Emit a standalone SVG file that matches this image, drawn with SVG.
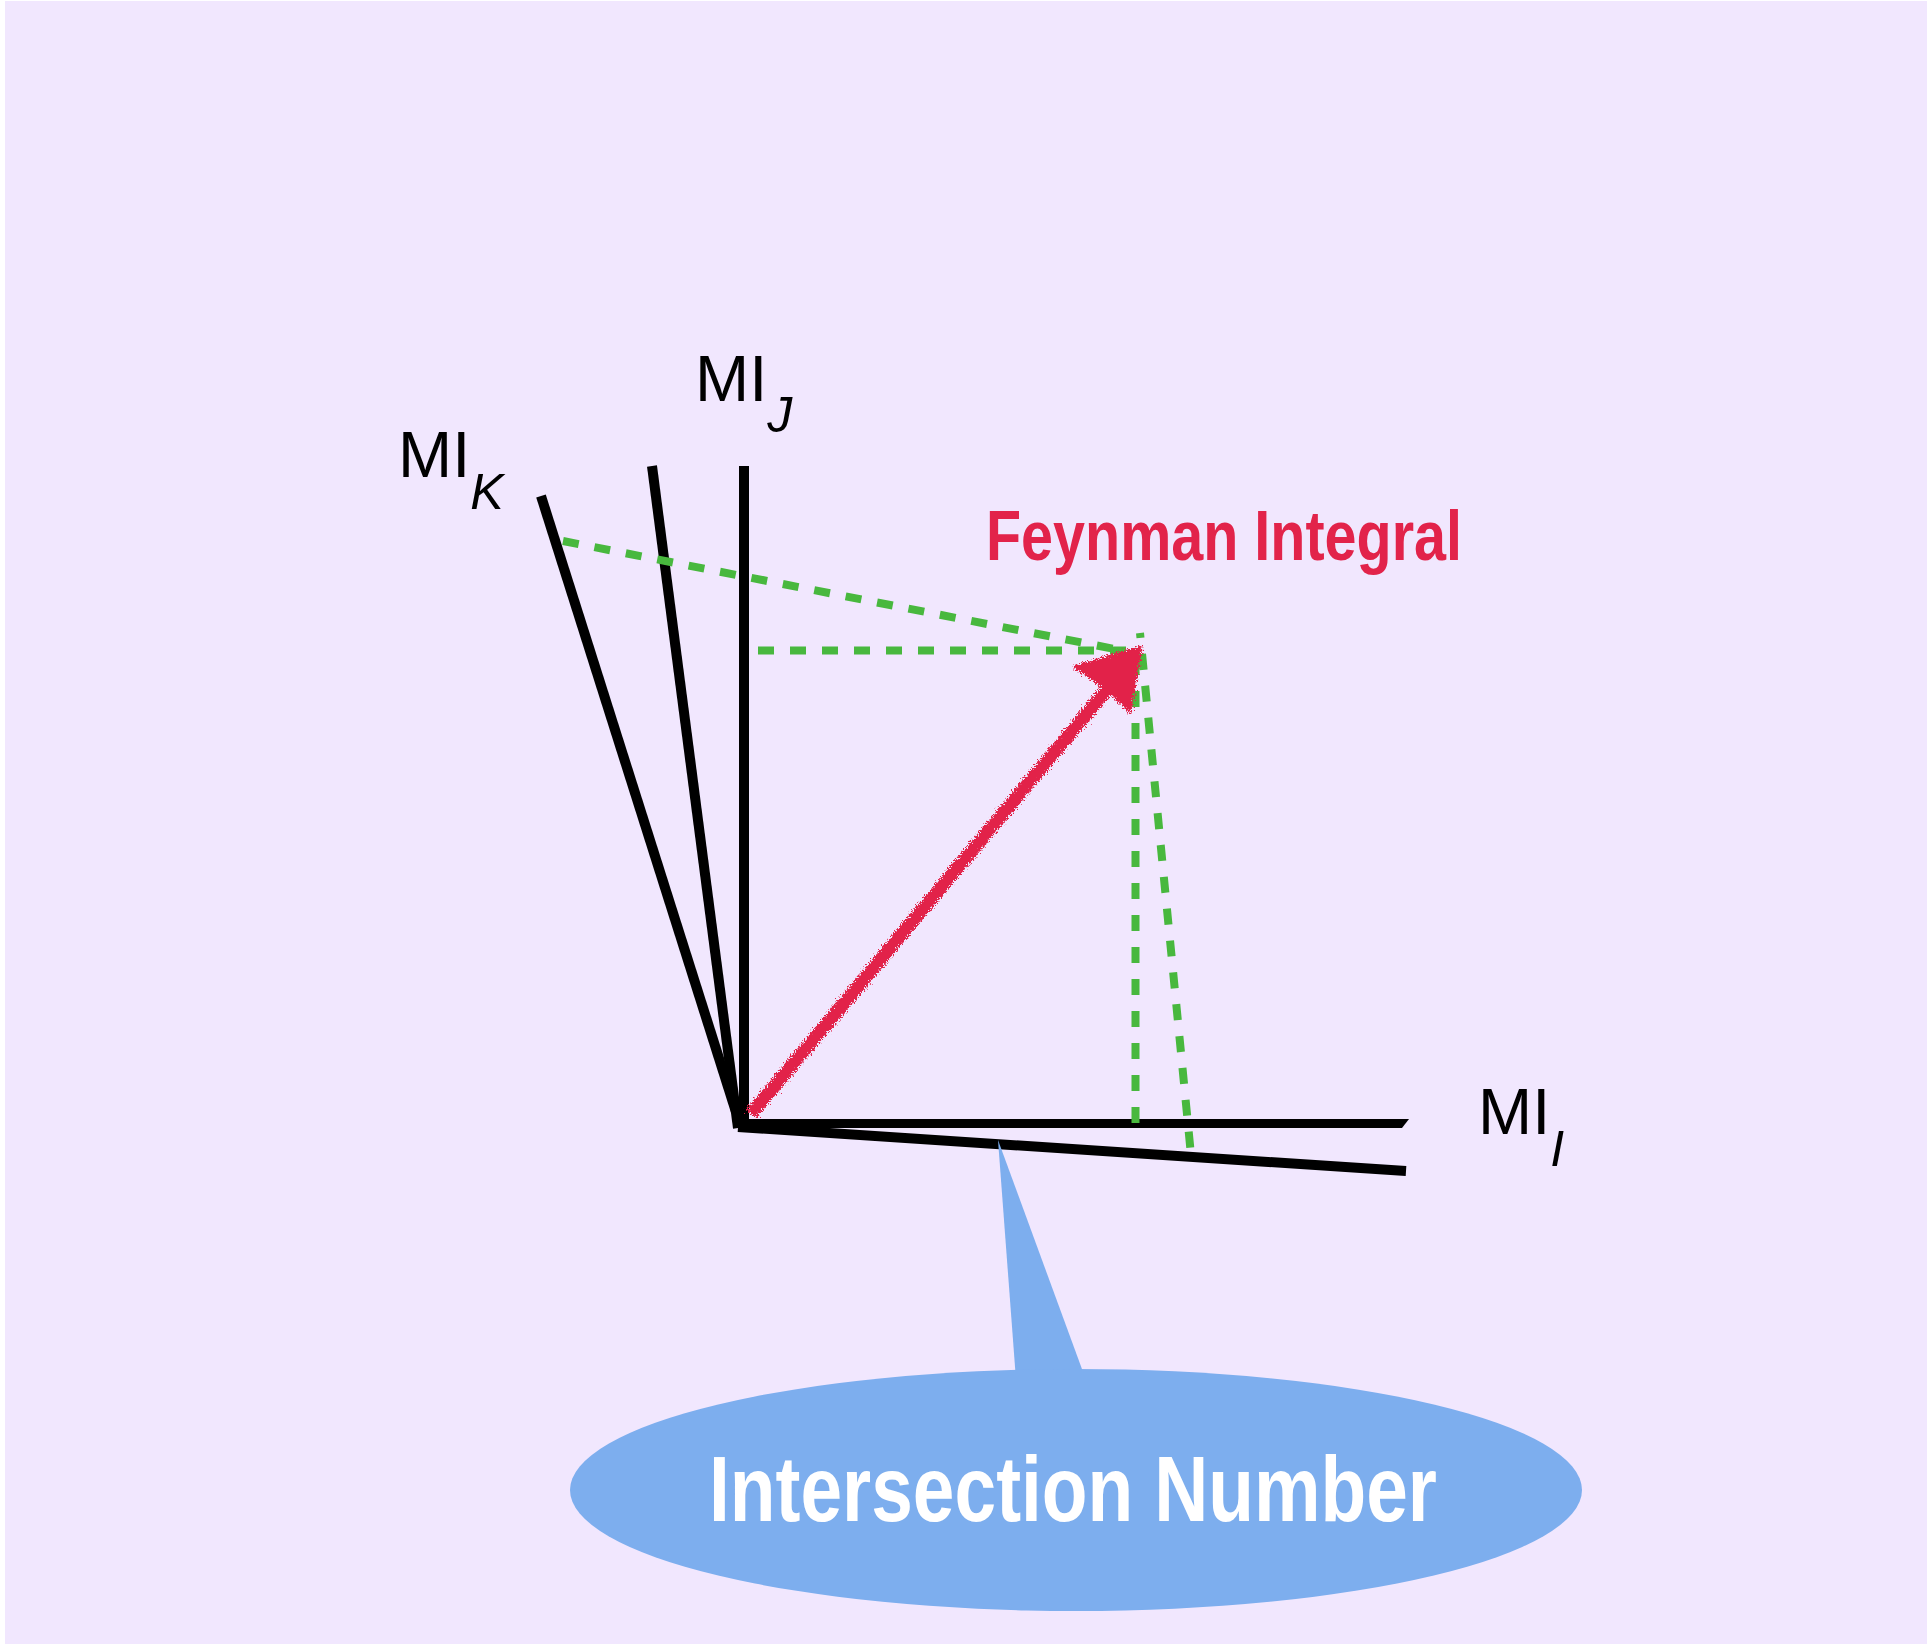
<svg xmlns="http://www.w3.org/2000/svg" width="1927" height="1644" viewBox="0 0 1927 1644">
<defs>
<style>
.axis{stroke:#000;stroke-width:10;fill:none;stroke-linecap:butt}
.proj{stroke:#48b83e;stroke-width:8;fill:none;stroke-dasharray:16 16}
.lbl{font-family:"Liberation Sans",Arial,sans-serif;font-size:65px;fill:#000}
.sub{font-style:italic;font-size:50px}
</style>
<filter id="rough" x="-10%" y="-10%" width="120%" height="120%">
<feTurbulence type="fractalNoise" baseFrequency="0.7" numOctaves="3" seed="4" result="n"/>
<feDisplacementMap in="SourceGraphic" in2="n" scale="10" xChannelSelector="R" yChannelSelector="G"/>
</filter>
</defs>
<rect x="0" y="0" width="1927" height="1644" fill="#ffffff"/>
<rect x="5" y="1" width="1922" height="1643" fill="#f1e7fe"/>

<g id="axes">
<line id="axis-K" class="axis" x1="541" y1="496" x2="736" y2="1112"/>
<line id="axis-K2" class="axis" x1="652" y1="466" x2="738" y2="1128"/>
<line id="axis-J" class="axis" x1="744" y1="466" x2="744" y2="1124"/>
<polygon id="axis-I" points="740,1119 1409,1119 1402,1128 740,1128" fill="#000"/>
<line id="axis-I2" class="axis" x1="738" y1="1127" x2="1406" y2="1171"/>
</g>

<g id="connectors">
<line class="proj" x1="563" y1="541" x2="1125" y2="651"/>
<line class="proj" x1="758" y1="650.5" x2="1126" y2="650.5"/>
<line class="proj" x1="1135.5" y1="659" x2="1135.5" y2="1123"/>
<line class="proj" x1="1140" y1="633" x2="1190.5" y2="1150" stroke-dashoffset="11"/>
</g>

<g id="vector" filter="url(#rough)" fill="#e2234a">
<line x1="751" y1="1114" x2="1110" y2="686" stroke="#e2234a" stroke-width="13"/>
<polygon points="1141,647 1130,712 1108,690 1075,667" stroke="#e2234a" stroke-width="3" stroke-linejoin="round"/>
</g>

<g id="label-K"><text class="lbl" x="398" y="477">MI<tspan class="sub" dy="32">K</tspan></text></g>
<g id="label-J"><text class="lbl" x="695" y="401">MI<tspan class="sub" dy="31">J</tspan></text></g>
<g id="label-I"><text class="lbl" x="1478" y="1134">MI<tspan class="sub" dy="32">I</tspan></text></g>

<g id="label-feynman"><text x="986" y="560" font-family="'Liberation Sans',Arial,sans-serif" font-weight="bold" font-size="71" fill="#e2234a" textLength="476" lengthAdjust="spacingAndGlyphs">Feynman Integral</text></g>

<g id="callout">
<polygon points="998,1140 1016,1380 1086,1380" fill="#7daeee"/>
<ellipse cx="1076" cy="1490" rx="506" ry="121" fill="#7daeee"/>
<text x="709" y="1521" font-family="'Liberation Sans',Arial,sans-serif" font-weight="bold" font-size="92" fill="#ffffff" textLength="728" lengthAdjust="spacingAndGlyphs">Intersection Number</text>
</g>
</svg>
